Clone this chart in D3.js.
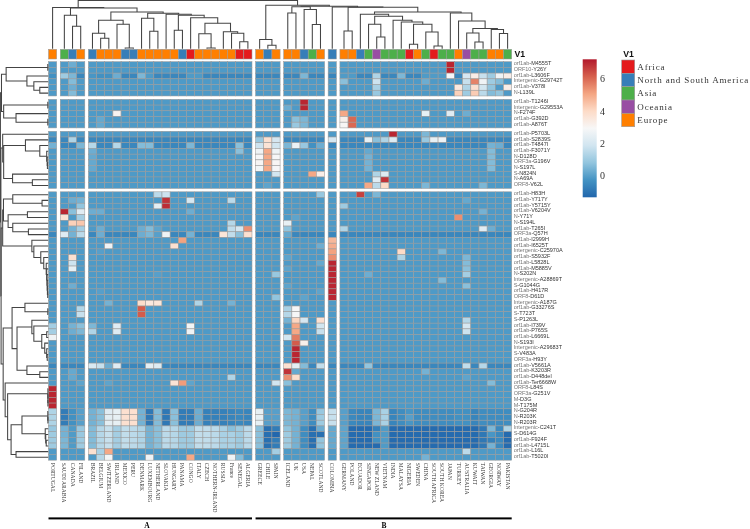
<!DOCTYPE html>
<html><head><meta charset="utf-8">
<script src="https://cdn.jsdelivr.net/npm/d3@7"></script>
<style>html,body{margin:0;padding:0;background:#fff}svg{display:block;filter:blur(0.3px)}</style>
</head><body><svg id="chart" width="750" height="529"></svg>
<script>
const colNames=["PORTUGAL","SAUDI ARABIA","CANADA","FILAND","BRAZIL","BELGIUM","SWITZERLAND","IRLAND","MEXICO","PERU","DENMARK","LUXEMBOURG","NETHERLAND","SLOVAKIA","HUNGARY","PANAMA","CONGO","ITALY","CZECH","NOTHERN-IRLAND","RUSSIA","France","SENEGAL","ALGERIA","GREECE","CHILE","SPAIN","ICELAND","UK","USA","NEPAL","SCOTLAND","COLOMBIA","GERMANY","POLAND","ECUADOR","SINGAPOR","NEW ZLAND","VIETNAM","INDIA","MALAYSA","NIGERIA","SWEDEN","CHINA","SOUTH AFRICA","SOUTH KOREA","JAPAN","TURKEY","AUSTRALIA","KUWAIT","TAIWAN","GEORGIA","NORWAY","PAKISTAN"];
const rowNames=["orf1ab-M4555T","ORF10-Y26Y","orf1ab-L3606F","Intergenic-G29742T","orf1ab-V378I","N-L139L","orf1ab-T1246I","Intergenic-G29553A","N-F274F","orf1ab-G392D","orf1ab-A876T","orf1ab-P5703L","orf1ab-S2839S","orf1ab-T4847I","orf1ab-F3071Y","N-D128D","ORF3a-G196V","N-S197L","S-N824N","N-A69A","ORF8-V62L","orf1ab-H83H","orf1ab-Y717Y","orf1ab-Y5715Y","orf1ab-V6204V","N-Y71Y","N-S194L","orf1ab-T265I","ORF3a-Q57H","orf1ab-I2999H","orf1ab-I6525T","Intergenic-C25970A","orf1ab-S5932F","orf1ab-L5828L","orf1ab-M5885V","N-S202N","Intergenic-A28869T","S-G1044G","orf1ab-H417R","ORF8-D61D","Intergenic-A187G","orf1ab-G33276S","S-T723T","S-P1263L","orf1ab-I739V","orf1ab-P765S","orf1ab-L6669L","N-S193I","Intergenic-A29683T","S-V483A","ORF3a-H93Y","orf1ab-V5661A","orf1ab-K3203R","orf1ab-D448del","orf1ab-Ter6668W","ORF8-L84S","ORF3a-G251V","M-D3G","M-T175M","N-G204R","N-R203K","N-R203R","Intergenic-C241T","S-D614G","orf1ab-F924F","orf1ab-L4715L","orf1ab-L16L","orf1ab-T5020I"];
const regionNames=["Africa","North and South America","Asia","Oceania","Europe"];
const regionColors=["#e41a1c","#377eb8","#4daf4a","#984ea3","#ff7f00"];
const colRegions=[4,2,1,4,1,4,4,4,1,1,4,4,4,4,4,1,0,4,4,4,4,4,0,0,4,1,4,4,4,1,2,4,1,4,4,1,2,3,2,2,2,0,4,2,0,2,2,4,3,2,2,4,4,2];
const colGapsAfter=[0,3,23,26,31,32];
const rowGapsAfter=[5,10,20];
const groupNames=["A","B"];
const groupSpans=[[0,23],[24,53]];
const legendTicks=[0,2,4,6];
const colorStops=["#2166ac","#4393c3","#92c5de","#d1e5f0","#f7f7f7","#fddbc7","#f4a582","#d6604d","#b2182b"];
const valueMin=-1.33, valueMax=7.2;

const baseValue=-0.12, darkValue=-0.55;
const darkRows=[2,12,13,28,51];
const sparseCells={
0:[[2,.3],[46,7]],
1:[[46,7]],
2:[[0,-.3],[1,1],[2,.5],[4,-.2],[5,-.3],[6,-.3],[7,.3],[10,.5],[11,-.1],[16,-.1],[17,-.1],[29,.5],[32,-.6],[33,-.1],[34,-.1],[37,1.3],[40,.5],[43,-.1],[44,-.1],[45,-.1],[46,2.9],[48,2],[49,3.3],[50,1.7],[51,1],[52,2.7],[53,3.3]],
3:[[2,.6],[33,.7],[37,1.8],[43,.3],[48,1.7],[49,5.6],[50,2.7],[51,1],[52,.6]],
4:[[2,.3],[37,1.2],[47,3.5],[48,1.3],[49,3.8],[50,1.9],[51,.8],[53,3.3]],
5:[[2,.6],[37,.9],[47,4.2],[48,1],[49,4.3],[50,1.5],[51,.6],[52,.8]],
6:[[29,7]],
7:[[27,.3],[29,7]],
8:[[7,3.1],[33,5],[43,2.5],[46,2.3],[48,.3]],
9:[[5,.2],[28,.7],[29,.5],[33,3.2],[34,6]],
10:[[5,.2],[28,.9],[29,.5],[33,3],[34,6]],
11:[[39,7],[43,.5]],
12:[[2,1.3],[24,.9],[25,3.8],[26,2],[32,2],[36,2.5],[37,.7],[38,1.3],[39,2.2],[43,.9],[44,2.5],[45,2.7]],
13:[[0,.4],[3,.5],[4,1.4],[7,1.4],[10,.6],[11,.6],[16,.5],[22,.7],[24,1.8],[25,3.7],[26,1.9],[27,.5],[28,2.6],[29,.9],[30,-.3],[31,.3],[51,.4],[52,.3]],
14:[[4,.3],[22,.7],[24,2.7],[25,5],[26,2.7],[36,.2],[51,.6]],
15:[[4,.2],[24,2.9],[25,5],[26,2.9],[36,.4],[51,.6]],
16:[[4,.2],[24,3],[25,5],[26,3],[36,.4],[51,.6]],
17:[[4,.2],[24,2.8],[25,5],[26,2.9],[36,.4],[51,.6]],
18:[[26,1.9],[30,5],[31,3.3],[37,1.3],[38,2.2]],
19:[[37,2.3],[38,6.8]],
20:[[25,.1],[36,5],[37,1.5],[38,4],[43,.5],[50,.5]],
21:[[12,1.5],[13,1.8],[31,.9],[35,6.6],[37,.5]],
22:[[2,.3],[3,.4],[13,6.8],[16,2],[21,1.5],[48,.2]],
23:[[3,.8],[12,2.4],[13,6.9],[33,1]],
24:[[1,7],[2,.7],[3,2.3],[4,.3],[5,.3],[16,.3],[50,.4]],
25:[[1,3.7],[3,1.1],[28,.1],[47,5.4]],
26:[[2,4.2],[3,4.4],[21,1.4],[27,2.5]],
27:[[2,.4],[3,1.1],[5,.3],[10,.3],[11,.6],[12,.1],[21,1.6],[22,2],[23,5.4],[27,.8],[33,1.3],[50,2.3],[51,.3]],
28:[[1,2.3],[2,.4],[3,1.5],[5,.3],[10,.3],[11,.5],[12,0],[13,2.7],[16,.4],[20,3.6],[21,1.6],[22,.7],[23,3.8],[27,.2]],
29:[[15,5.1],[32,4.7]],
30:[[6,2.7],[14,3.8],[31,.3],[32,4.9]],
31:[[5,0],[32,5.1],[40,4],[45,.5]],
32:[[2,3.8],[27,.1],[32,5.4],[40,1.3],[48,.5]],
33:[[2,1.8],[31,.2],[32,7],[48,.6]],
34:[[2,2.5],[27,.1],[32,7],[48,.7]],
35:[[12,0],[26,.9],[32,7],[36,.3],[48,1.1]],
36:[[32,7],[45,.6]],
37:[[2,.3],[27,.1],[32,7],[48,.7]],
38:[[5,0],[31,.1],[32,7]],
39:[[26,.8],[29,.1],[32,7]],
40:[[6,.4],[10,3.9],[11,3.5],[12,3.6],[17,1.3],[21,.4]],
41:[[3,1.4],[10,6.2],[27,1.2],[28,2.9]],
42:[[3,1.7],[10,6.2],[27,1.4],[28,2.9]],
43:[[27,.4],[28,4.1],[29,2],[31,3.8],[48,1.4]],
44:[[0,1.1],[2,.4],[3,.7],[4,.5],[7,2.3],[16,2.8],[28,5],[31,1.9],[48,2]],
45:[[0,1.1],[2,.3],[3,.5],[4,1.3],[7,2.2],[16,2.7],[28,5],[31,1.7],[48,1.8]],
46:[[0,2.7],[27,1.9],[28,5.7]],
47:[[28,6.2],[29,3.2]],
48:[[28,7]],
49:[[28,7]],
50:[[28,7]],
51:[[4,2.1],[5,1.7],[6,.3],[7,2.3],[11,2.4],[12,2.2],[27,3.8],[28,2.4],[29,.6],[31,1.6],[36,.8],[48,1.6],[50,1.4]],
52:[[2,.2],[27,6.8],[28,.2],[43,.4]],
53:[[2,.2],[21,1.3],[27,5.4],[28,3.9],[48,.1]],
54:[[3,.1],[6,.1],[14,3.7],[15,5.2],[16,.1],[26,1.9],[27,.7],[51,.6]],
55:[[0,7]],56:[[0,7]],57:[[0,7]],58:[[0,7]],
66:[[4,3.8],[5,1.2],[6,5],[26,1.1],[48,1.5]],
67:[[5,1.4],[6,2.8],[11,2.7],[16,5],[21,2.7],[22,.6],[43,.4]]
};
const rowG204R=[1.3,-.8,-.3,0,.4,.7,2.3,2.5,3.8,3.8,.4,-.9,.6,-.9,.7,-.8,-.8,.3,-.7,-.7,-.7,-.6,-.5,-.6,2.5,0,0,.5,.4,0,-.4,.9,1.7,0,-.5,-.6,-.6,.5,1.2,-.6,-.4,-.2,-.4,-.4,-.4,-.4,-.4,-.3,-.3,-.6,-.4,-.4,-.4,-.4];
const rowR203K=[1.3,-.8,-.3,0,.4,.7,2.4,2.5,3.8,3.8,.4,-.9,.6,-.9,.7,-.8,-.8,.3,-.7,-.7,-.7,-.6,-.5,-.6,2.5,0,0,.5,.4,0,-.4,1,1.7,0,-.5,-.6,-.6,.5,1.2,-.6,-.4,0,-.4,-.4,-.4,-.4,-.4,-.3,-.3,-.6,-.4,-.4,-.4,-.4];
const rowR203R=[1.3,-.8,-.3,0,.4,.7,2.4,2.5,3.8,3.8,.4,-.9,.6,-.9,.7,-.8,-.8,.3,-.7,-.7,-.7,-.6,-.5,-.6,2.5,0,0,.5,.4,0,-.4,1,1.7,0,-.5,-.6,-.6,.5,1.2,-.6,-.4,-.2,-.4,-.4,-.4,-.4,-.4,-.3,-.3,-.6,-.4,-.4,-.4,-.4];
const rowC241T=[.9,.4,-.1,.9,.6,1.4,1.7,1.1,1.6,1.5,1.3,.4,.7,1.5,1.4,1,1,1.6,1.6,1.5,1.2,.7,1,1.5,.7,-1.1,-.8,.8,.4,-.4,-1.1,.3,.2,.1,-1.2,-1.2,-1.2,-.7,-.1,-1.2,-1.2,-1.2,-1.2,-1.2,-1.2,-1.2,-1.2,-1.2,-1.2,-1.2,-.9,.5,-.5,1.3];
const rowD614G=[1,.4,-.1,.9,.6,1.4,1.7,1.1,1.6,1.5,1.3,.4,.7,1.5,1.4,1,1,1.6,1.6,1.5,1.2,1.2,1,1.5,.7,-1.1,-1.3,1,.4,-.4,-1.1,-1.1,.2,.1,-1.2,-1.2,-1.2,-.3,-.1,-1.2,-1.2,-1.2,-1.2,-1.2,-1.2,-1.2,-1.2,-1.2,-1.2,-1.2,-.9,-.2,-.5,-1.2];
const rowF924F=[1,.5,-.1,1,.6,1.4,1.7,1.1,1.6,1.5,1.3,.4,.7,1.5,1.4,1,1,1.6,1.6,1.5,1.2,1.2,1,1.5,.7,-1.1,-.8,1,.4,-.4,-1.1,.8,.2,.1,-1.2,-1.2,-1.2,-.3,-.1,-1.2,-1.2,-1.2,-1.2,-1.2,-1.2,-1.2,-1.2,-1.2,-1.2,-1.2,-.9,-.7,-.5,-1.2];
const rowL4715L=[1,.5,-.1,1,.6,1.4,1.7,1.1,1.6,1.5,1.3,.4,.7,1.5,1.4,1,1,1.6,1.6,1.5,1.2,1.2,1,1.5,.7,-1.1,-.8,1,.4,-.4,-1.1,.8,.2,.1,-1.2,-1.2,-1.2,-1.2,-.1,-1.2,-1.2,-1.2,-1.2,-1.2,-1.2,-1.2,-1.2,-1.2,-1.2,-1.2,-.9,.4,-.5,-1.2];
const denseRows={59:rowG204R,60:rowR203K,61:rowR203R,62:rowC241T,63:rowD614G,64:rowF924F,65:rowL4715L};

// dendrograms: [merge height, left, right]; numbers are leaves
const colTree=[48.3,
 [41.2,0,[40.7,[33.5,1,[22.5,2,3]],[36.8,[28.5,[15.5,4,[10.5,5,6]],[24.5,7,[.8,8,9]]],[35.5,[30.5,10,[17.5,11,12]],[34.5,13,[33.5,[18.5,14,15],[31,16,[25.5,[15,17,[.7,18,19]],[17,20,[15.5,21,[7,22,23]]]]]]]]]]],
 [43.5,[9.2,24,[3.5,25,26]],[42.5,[42,[35.8,27,28],[39.2,29,[24.2,30,31]]],[41.8,32,[41.5,[17.8,33,34],[36.8,[34.5,35,[32.5,[24.5,36,[11.8,37,38]],[28.5,39,[26.8,40,[24.5,[4.5,41,42],[16.8,43,[2.8,44,45]]]]]]],[35.8,46,[27.8,47,[20.2,[15.8,48,[6.8,49,50]],[19.2,51,[15.2,52,53]]]]]]]]]]];
const rowTree=[48.3,
 [47.2,[42.5,[.4,0,1],[21.5,2,[14.5,3,[8.5,4,5]]]],[45,[.4,6,7],[32.5,8,[.4,9,10]]]],
 [47.8,[46,11,[45,[23,12,[8.5,13,[1.5,14,[1,15,[.8,16,17]]]]],[36,18,[16,19,20]]]],
  [47.6,[46,[45.2,[35.8,21,[6.2,22,23]],[40.5,[21,24,25],[35.8,26,[20,27,28]]]],[16.5,29,[14.5,30,[7.5,31,[4.5,32,[2,33,[1.5,34,[1.2,35,[1,36,[.8,37,[.5,38,39]]]]]]]]]]],
   [45.5,[36.5,[23.5,40,[.4,41,42]],[31.5,[16.5,43,[14.5,44,[6.5,[1.5,45,46],[3.5,47,[1.5,48,[1,49,50]]]]]],[21.5,51,[8.5,52,53]]]],
    [43.5,54,[41,[.3,55,[.3,56,[.3,57,58]]],[37.5,[26.5,[.4,59,[.3,60,61]],[3,62,[2.5,63,[2,64,65]]]],[32.5,66,67]]]]]]]];

const svg=d3.select("#chart");
const W=8.18,H=5.71,GX=3.58,GY=3.4;
const colIndex=d3.scaleLinear().domain([0,colNames.length]).range([48.5,48.5+colNames.length*W]);
const rowIndex=d3.scaleLinear().domain([0,rowNames.length]).range([61.7,61.7+rowNames.length*H]);
const X=i=>colIndex(i)+GX*colGapsAfter.filter(g=>g<i).length;
const Y=i=>rowIndex(i)+GY*rowGapsAfter.filter(g=>g<i).length;
const color=d3.scaleLinear().domain(colorStops.map((_,i)=>valueMin+(valueMax-valueMin)*i/(colorStops.length-1))).range(colorStops).interpolate(d3.interpolateRgb).clamp(true);

const values=rowNames.map((_,r)=>{
  if(denseRows[r]) return denseRows[r];
  const row=colNames.map(()=>darkRows.includes(r)?darkValue:baseValue);
  (sparseCells[r]||[]).forEach(([c,v])=>row[c]=v);
  return row;
});

// heatmap
const cells=[];values.forEach((row,r)=>row.forEach((v,c)=>cells.push({r,c,v})));
svg.append("g").selectAll("rect").data(cells).join("rect")
 .attr("x",d=>X(d.c)).attr("y",d=>Y(d.r)).attr("width",W).attr("height",H)
 .attr("fill",d=>color(d.v)).attr("stroke","#9a9a9a").attr("stroke-width",.55);

// annotation strip
svg.append("g").selectAll("rect").data(colRegions).join("rect")
 .attr("x",(d,i)=>X(i)).attr("y",49.3).attr("width",W).attr("height",9.7)
 .attr("fill",d=>regionColors[d]).attr("stroke","#9a9a9a").attr("stroke-width",.55);
svg.append("text").attr("x",514.5).attr("y",57.4).text("V1")
 .attr("font-family","Liberation Sans, Arial, sans-serif").attr("font-weight","bold").attr("font-size",8.7).attr("fill","#111");

// dendrograms
function layout(tree,pos,segs){
  if(typeof tree==="number") return {p:pos(tree),h:0};
  const [h,a,b]=tree, A=layout(a,pos,segs), B=layout(b,pos,segs);
  segs.push([[A.p,A.h],[A.p,h],[B.p,h],[B.p,B.h]]);
  return {p:(A.p+B.p)/2,h};
}
const hTop=d3.scaleLinear().domain([0,48.5]).range([48.8,0.2]);
const hLeft=d3.scaleLinear().domain([0,48.5]).range([48.2,0.2]);
const topSegs=[],leftSegs=[];
layout(colTree,i=>X(i)+W/2,topSegs);
layout(rowTree,i=>Y(i)+H/2,leftSegs);
const lineTop=d3.line().x(d=>d[0]).y(d=>hTop(d[1]));
const lineLeft=d3.line().x(d=>hLeft(d[1])).y(d=>d[0]);
const dendro=svg.append("g").attr("fill","none").attr("stroke","#444").attr("stroke-width",1.05);
dendro.selectAll("path.t").data(topSegs).join("path").attr("class","t").attr("d",lineTop);
dendro.selectAll("path.l").data(leftSegs).join("path").attr("class","l").attr("d",lineLeft);

// row labels
const rowLabels=svg.append("g").selectAll("text").data(rowNames).join("text")
 .attr("x",513.7).attr("y",(d,i)=>Y(i)+H/2-1.3).attr("dy","0.35em")
 .attr("font-family","Liberation Sans, Arial, sans-serif").attr("font-size",5.5);
rowLabels.append("tspan").attr("fill","#777").text(d=>d.slice(0,d.indexOf("-")));
rowLabels.append("tspan").attr("fill","#333").text(d=>d.slice(d.indexOf("-")));

// column labels
svg.append("g").selectAll("text").data(colNames).join("text")
 .attr("transform",(d,i)=>`translate(${X(i)+W/2},462.8) rotate(90)`).attr("dy","0.35em").text(d=>d)
 .attr("font-family","Liberation Serif, Times New Roman, serif").attr("font-size",5.6).attr("fill","#333");

// group bars
svg.append("g").selectAll("rect").data(groupSpans).join("rect")
 .attr("x",d=>X(d[0])).attr("y",517.4).attr("width",d=>X(d[1])+W-X(d[0])).attr("height",2).attr("fill","#000");
const groupLabelX=[147,384];
svg.append("g").selectAll("text").data(groupNames).join("text")
 .attr("x",(d,i)=>groupLabelX[i]).attr("y",528).attr("text-anchor","middle").text(d=>d)
 .attr("font-family","Liberation Serif, Times New Roman, serif").attr("font-weight","bold").attr("font-size",7.5).attr("fill","#000");

// colour bar
const legendY=d3.scaleLinear().domain([valueMin,valueMax]).range([197.3,59.3]);
const defs=svg.append("defs");
const grad=defs.append("linearGradient").attr("id","cb").attr("x1",0).attr("x2",0).attr("y1",1).attr("y2",0);
colorStops.forEach((c,i)=>grad.append("stop").attr("offset",i/(colorStops.length-1)).attr("stop-color",c));
svg.append("rect").attr("x",582.7).attr("y",legendY(valueMax)).attr("width",14).attr("height",legendY(valueMin)-legendY(valueMax)).attr("fill","url(#cb)");
svg.append("g").selectAll("text").data(legendTicks).join("text")
 .attr("x",600).attr("y",d=>legendY(d)).attr("dy","0.35em").text(d=>d)
 .attr("font-family","Liberation Serif, Times New Roman, serif").attr("font-size",10).attr("fill","#333");

// region legend
svg.append("text").attr("x",623.3).attr("y",57.2).text("V1")
 .attr("font-family","Liberation Sans, Arial, sans-serif").attr("font-weight","bold").attr("font-size",8.7).attr("fill","#111");
const legendBox=d3.scaleBand().domain(regionNames).range([60,126.7]);
svg.append("g").selectAll("rect").data(regionNames).join("rect")
 .attr("x",621.7).attr("y",d=>legendBox(d)).attr("width",13).attr("height",legendBox.bandwidth())
 .attr("fill",(d,i)=>regionColors[i]).attr("stroke","#9a9a9a").attr("stroke-width",.6);
svg.append("g").selectAll("text").data(regionNames).join("text")
 .attr("x",637.3).attr("y",d=>legendBox(d)+legendBox.bandwidth()/2).attr("dy","0.33em").text(d=>d)
 .attr("font-family","Liberation Serif, Times New Roman, serif").attr("font-size",9).attr("letter-spacing",.85).attr("fill","#333");
</script></body></html>
